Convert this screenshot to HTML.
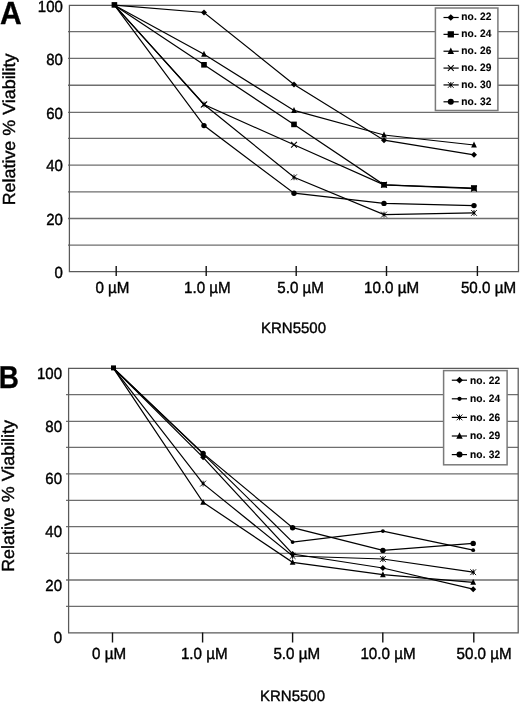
<!DOCTYPE html>
<html><head><meta charset="utf-8"><title>Figure</title>
<style>
html,body{margin:0;padding:0;background:#fff;}
body{width:520px;height:702px;overflow:hidden;}
svg{display:block;filter:grayscale(1);}
svg text{font-family:"Liberation Sans", sans-serif;fill:#000;text-rendering:geometricPrecision;}
</style></head>
<body>
<svg width="520" height="702" viewBox="0 0 520 702">
<rect width="520" height="702" fill="#fff"/>
<line x1="68.0" y1="31.70" x2="518.5" y2="31.70" stroke="#6e6e6e" stroke-width="1.3"/>
<line x1="68.0" y1="58.30" x2="518.5" y2="58.30" stroke="#6e6e6e" stroke-width="1.3"/>
<line x1="68.0" y1="85.25" x2="518.5" y2="85.25" stroke="#6e6e6e" stroke-width="1.3"/>
<line x1="68.0" y1="112.40" x2="518.5" y2="112.40" stroke="#6e6e6e" stroke-width="1.3"/>
<line x1="68.0" y1="138.30" x2="518.5" y2="138.30" stroke="#6e6e6e" stroke-width="1.3"/>
<line x1="68.0" y1="165.20" x2="518.5" y2="165.20" stroke="#6e6e6e" stroke-width="1.3"/>
<line x1="68.0" y1="191.80" x2="518.5" y2="191.80" stroke="#6e6e6e" stroke-width="1.3"/>
<line x1="68.0" y1="218.50" x2="518.5" y2="218.50" stroke="#6e6e6e" stroke-width="1.3"/>
<line x1="68.0" y1="245.10" x2="518.5" y2="245.10" stroke="#6e6e6e" stroke-width="1.3"/>
<path d="M69.4,5.3H518.5V271.5H69.4Z" fill="none" stroke="#5a5a5a" stroke-width="1.25"/>
<line x1="116.2" y1="266" x2="116.2" y2="276" stroke="#111" stroke-width="1.4"/>
<line x1="206.2" y1="266" x2="206.2" y2="276" stroke="#111" stroke-width="1.4"/>
<line x1="296.2" y1="266" x2="296.2" y2="276" stroke="#111" stroke-width="1.4"/>
<line x1="386.5" y1="266" x2="386.5" y2="276" stroke="#111" stroke-width="1.4"/>
<line x1="477.4" y1="266" x2="477.4" y2="276" stroke="#111" stroke-width="1.4"/>
<text transform="translate(62.9,11.5) scale(1.0,1.07)" font-size="15" text-anchor="end" stroke="#000" stroke-width="0.38">100</text>
<text transform="translate(62.9,64.5) scale(1.0,1.07)" font-size="15" text-anchor="end" stroke="#000" stroke-width="0.38">80</text>
<text transform="translate(62.9,118.6) scale(1.0,1.07)" font-size="15" text-anchor="end" stroke="#000" stroke-width="0.38">60</text>
<text transform="translate(62.9,171.4) scale(1.0,1.07)" font-size="15" text-anchor="end" stroke="#000" stroke-width="0.38">40</text>
<text transform="translate(62.9,224.7) scale(1.0,1.07)" font-size="15" text-anchor="end" stroke="#000" stroke-width="0.38">20</text>
<text transform="translate(62.9,277.7) scale(1.0,1.07)" font-size="15" text-anchor="end" stroke="#000" stroke-width="0.38">0</text>
<text transform="translate(95.4,292.6) scale(1.012,1.07)" font-size="15" stroke="#000" stroke-width="0.38">0 µM</text>
<text transform="translate(184.0,292.6) scale(1.012,1.07)" font-size="15" stroke="#000" stroke-width="0.38">1.0 µM</text>
<text transform="translate(277.3,292.6) scale(1.012,1.07)" font-size="15" stroke="#000" stroke-width="0.38">5.0 µM</text>
<text transform="translate(364.0,292.6) scale(1.012,1.07)" font-size="15" stroke="#000" stroke-width="0.38">10.0 µM</text>
<text transform="translate(460.9,292.6) scale(1.012,1.07)" font-size="15" stroke="#000" stroke-width="0.38">50.0 µM</text>
<text transform="translate(261.0,333.1) scale(1.0,1.0)" font-size="15" stroke="#000" stroke-width="0.38">KRN5500</text>
<text transform="translate(0.0,23.5) scale(1.0,1.065)" font-size="30" font-weight="bold" stroke="#000" stroke-width="0.3">A</text>
<text transform="translate(15.4,205.3) rotate(-90) scale(1.022,1.0)" font-size="17.5" stroke="#000" stroke-width="0.38">Relative % Viability</text>
<polyline points="114.4,5.2 204,12.5 294,84.4 384,140.2 474,154.8" fill="none" stroke="#000" stroke-width="1.2"/>
<polyline points="114.4,5.2 204,64.8 294,124.4 384,184.8 474,188.0" fill="none" stroke="#000" stroke-width="1.2"/>
<polyline points="114.4,5.2 204,54.2 294,110.4 384,135.0 474,145.0" fill="none" stroke="#000" stroke-width="1.2"/>
<polyline points="114.4,5.2 204,104.5 294,144.8 384,184.8 474,188.6" fill="none" stroke="#000" stroke-width="1.2"/>
<polyline points="114.4,5.2 204,104.5 294,177.3 384,214.6 474,212.9" fill="none" stroke="#000" stroke-width="1.2"/>
<polyline points="114.4,5.2 204,125.6 294,193.2 384,203.4 474,205.6" fill="none" stroke="#000" stroke-width="1.2"/>
<polygon points="204,9.5 207.0,12.5 204,15.5 201.0,12.5" fill="#000"/>
<polygon points="294,81.4 297.0,84.4 294,87.4 291.0,84.4" fill="#000"/>
<polygon points="384,137.2 387.0,140.2 384,143.2 381.0,140.2" fill="#000"/>
<polygon points="474,151.8 477.0,154.8 474,157.8 471.0,154.8" fill="#000"/>
<rect x="201.2" y="62.0" width="5.6" height="5.6" fill="#000"/>
<rect x="291.2" y="121.60000000000001" width="5.6" height="5.6" fill="#000"/>
<rect x="381.2" y="182.0" width="5.6" height="5.6" fill="#000"/>
<rect x="471.2" y="185.2" width="5.6" height="5.6" fill="#000"/>
<polygon points="204,50.81 206.85,56.75 201.15,56.75" fill="#000"/>
<polygon points="294,107.01 296.85,112.95 291.15,112.95" fill="#000"/>
<polygon points="384,131.61 386.85,137.55 381.15,137.55" fill="#000"/>
<polygon points="474,141.61 476.85,147.55 471.15,147.55" fill="#000"/>
<path d="M201.1,101.6L206.9,107.4M201.1,107.4L206.9,101.6" stroke="#000" stroke-width="1.1" fill="none"/>
<path d="M291.1,141.9L296.9,147.70000000000002M291.1,147.70000000000002L296.9,141.9" stroke="#000" stroke-width="1.1" fill="none"/>
<path d="M381.1,181.9L386.9,187.70000000000002M381.1,187.70000000000002L386.9,181.9" stroke="#000" stroke-width="1.1" fill="none"/>
<path d="M471.1,185.7L476.9,191.5M471.1,191.5L476.9,185.7" stroke="#000" stroke-width="1.1" fill="none"/>
<path d="M201.1,101.6L206.9,107.4M201.1,107.4L206.9,101.6M204,101.6L204,107.4" stroke="#000" stroke-width="0.9" fill="none"/><circle cx="204" cy="104.5" r="1.4" fill="#000"/>
<path d="M291.1,174.4L296.9,180.20000000000002M291.1,180.20000000000002L296.9,174.4M294,174.4L294,180.20000000000002" stroke="#000" stroke-width="0.9" fill="none"/><circle cx="294" cy="177.3" r="1.4" fill="#000"/>
<path d="M381.1,211.7L386.9,217.5M381.1,217.5L386.9,211.7M384,211.7L384,217.5" stroke="#000" stroke-width="0.9" fill="none"/><circle cx="384" cy="214.6" r="1.4" fill="#000"/>
<path d="M471.1,210.0L476.9,215.8M471.1,215.8L476.9,210.0M474,210.0L474,215.8" stroke="#000" stroke-width="0.9" fill="none"/><circle cx="474" cy="212.9" r="1.4" fill="#000"/>
<circle cx="204" cy="125.6" r="2.7" fill="#000"/>
<circle cx="294" cy="193.2" r="2.7" fill="#000"/>
<circle cx="384" cy="203.4" r="2.7" fill="#000"/>
<circle cx="474" cy="205.6" r="2.7" fill="#000"/>
<rect x="111.60000000000001" y="2.1000000000000005" width="5.6" height="5.6" fill="#000"/>
<rect x="435.4" y="8.0" width="62.5" height="102.5" fill="#fff" stroke="#7a7a7a" stroke-width="1.5"/>
<line x1="443.5" y1="17.50" x2="458.7" y2="17.50" stroke="#000" stroke-width="1.2"/>
<polygon points="450.8,14.14 454.16,17.5 450.8,20.86 447.44,17.5" fill="#000"/>
<text transform="translate(461.2,20.2) scale(1.0,1.04)" font-size="10.2" font-weight="bold" stroke="#000" stroke-width="0.12" letter-spacing="0.15">no. 22</text>
<line x1="443.5" y1="34.36" x2="458.7" y2="34.36" stroke="#000" stroke-width="1.2"/>
<rect x="447.664" y="31.224" width="6.272" height="6.272" fill="#000"/>
<text transform="translate(461.2,37.06) scale(1.0,1.04)" font-size="10.2" font-weight="bold" stroke="#000" stroke-width="0.12" letter-spacing="0.15">no. 24</text>
<line x1="443.5" y1="51.22" x2="458.7" y2="51.22" stroke="#000" stroke-width="1.2"/>
<polygon points="450.8,47.42 453.99,54.08 447.61,54.08" fill="#000"/>
<text transform="translate(461.2,53.92) scale(1.0,1.04)" font-size="10.2" font-weight="bold" stroke="#000" stroke-width="0.12" letter-spacing="0.15">no. 26</text>
<line x1="443.5" y1="68.08" x2="458.7" y2="68.08" stroke="#000" stroke-width="1.2"/>
<path d="M447.90000000000003,65.17999999999999L453.7,70.98M447.90000000000003,70.98L453.7,65.17999999999999" stroke="#000" stroke-width="1.1" fill="none"/>
<text transform="translate(461.2,70.78) scale(1.0,1.04)" font-size="10.2" font-weight="bold" stroke="#000" stroke-width="0.12" letter-spacing="0.15">no. 29</text>
<line x1="443.5" y1="84.94" x2="458.7" y2="84.94" stroke="#000" stroke-width="1.2"/>
<path d="M447.90000000000003,82.03999999999999L453.7,87.84M447.90000000000003,87.84L453.7,82.03999999999999M450.8,82.03999999999999L450.8,87.84" stroke="#000" stroke-width="0.9" fill="none"/><circle cx="450.8" cy="84.94" r="1.4" fill="#000"/>
<text transform="translate(461.2,87.64) scale(1.0,1.04)" font-size="10.2" font-weight="bold" stroke="#000" stroke-width="0.12" letter-spacing="0.15">no. 30</text>
<line x1="443.5" y1="101.80" x2="458.7" y2="101.80" stroke="#000" stroke-width="1.2"/>
<circle cx="450.8" cy="101.8" r="3.0240000000000005" fill="#000"/>
<text transform="translate(461.2,104.5) scale(1.0,1.04)" font-size="10.2" font-weight="bold" stroke="#000" stroke-width="0.12" letter-spacing="0.15">no. 32</text>
<line x1="66.0" y1="394.60" x2="518.2" y2="394.60" stroke="#6e6e6e" stroke-width="1.3"/>
<line x1="66.0" y1="421.30" x2="518.2" y2="421.30" stroke="#6e6e6e" stroke-width="1.3"/>
<line x1="66.0" y1="447.40" x2="518.2" y2="447.40" stroke="#6e6e6e" stroke-width="1.3"/>
<line x1="66.0" y1="473.90" x2="518.2" y2="473.90" stroke="#6e6e6e" stroke-width="1.3"/>
<line x1="66.0" y1="500.30" x2="518.2" y2="500.30" stroke="#6e6e6e" stroke-width="1.3"/>
<line x1="66.0" y1="526.70" x2="518.2" y2="526.70" stroke="#6e6e6e" stroke-width="1.3"/>
<line x1="66.0" y1="553.30" x2="518.2" y2="553.30" stroke="#6e6e6e" stroke-width="1.3"/>
<line x1="66.0" y1="580.00" x2="518.2" y2="580.00" stroke="#6e6e6e" stroke-width="1.3"/>
<line x1="66.0" y1="606.40" x2="518.2" y2="606.40" stroke="#6e6e6e" stroke-width="1.3"/>
<path d="M68.6,368.3H518.2V632.8H68.6Z" fill="none" stroke="#5a5a5a" stroke-width="1.25"/>
<line x1="112.5" y1="632.5" x2="112.5" y2="642.5" stroke="#111" stroke-width="1.4"/>
<line x1="202.6" y1="632.5" x2="202.6" y2="642.5" stroke="#111" stroke-width="1.4"/>
<line x1="292.6" y1="632.5" x2="292.6" y2="642.5" stroke="#111" stroke-width="1.4"/>
<line x1="382.8" y1="632.5" x2="382.8" y2="642.5" stroke="#111" stroke-width="1.4"/>
<line x1="473.8" y1="632.5" x2="473.8" y2="642.5" stroke="#111" stroke-width="1.4"/>
<text transform="translate(62.0,378.8) scale(1.0,1.07)" font-size="15" text-anchor="end" stroke="#000" stroke-width="0.38">100</text>
<text transform="translate(62.0,431.8) scale(1.0,1.07)" font-size="15" text-anchor="end" stroke="#000" stroke-width="0.38">80</text>
<text transform="translate(62.0,484.4) scale(1.0,1.07)" font-size="15" text-anchor="end" stroke="#000" stroke-width="0.38">60</text>
<text transform="translate(62.0,537.2) scale(1.0,1.07)" font-size="15" text-anchor="end" stroke="#000" stroke-width="0.38">40</text>
<text transform="translate(62.0,590.5) scale(1.0,1.07)" font-size="15" text-anchor="end" stroke="#000" stroke-width="0.38">20</text>
<text transform="translate(62.0,643.3) scale(1.0,1.07)" font-size="15" text-anchor="end" stroke="#000" stroke-width="0.38">0</text>
<text transform="translate(92.0,659.1) scale(1.012,1.07)" font-size="15" stroke="#000" stroke-width="0.38">0 µM</text>
<text transform="translate(180.9,659.1) scale(1.012,1.07)" font-size="15" stroke="#000" stroke-width="0.38">1.0 µM</text>
<text transform="translate(273.4,659.1) scale(1.012,1.07)" font-size="15" stroke="#000" stroke-width="0.38">5.0 µM</text>
<text transform="translate(360.4,659.1) scale(1.012,1.07)" font-size="15" stroke="#000" stroke-width="0.38">10.0 µM</text>
<text transform="translate(456.5,659.1) scale(1.012,1.07)" font-size="15" stroke="#000" stroke-width="0.38">50.0 µM</text>
<text transform="translate(260.0,700.9) scale(1.0,1.0)" font-size="15" stroke="#000" stroke-width="0.38">KRN5500</text>
<text transform="translate(-1.2,387.5) scale(0.93,1.06)" font-size="30" font-weight="bold" stroke="#000" stroke-width="0.3">B</text>
<text transform="translate(13.8,571.8) rotate(-90) scale(1.022,1.0)" font-size="17.5" stroke="#000" stroke-width="0.38">Relative % Viability</text>
<polyline points="113.5,368.3 203.1,457.3 292.6,554.0 382.9,568.0 473.2,589.2" fill="none" stroke="#000" stroke-width="1.2"/>
<polyline points="113.5,368.3 203.1,453.9 292.6,542.1 382.9,531.1 473.2,550.2" fill="none" stroke="#000" stroke-width="1.2"/>
<polyline points="113.5,368.3 203.1,483.6 292.6,556.0 382.9,559.0 473.2,572.2" fill="none" stroke="#000" stroke-width="1.2"/>
<polyline points="113.5,368.3 203.1,502.3 292.6,562.3 382.9,574.6 473.2,582.3" fill="none" stroke="#000" stroke-width="1.2"/>
<polyline points="113.5,368.3 203.1,453.4 292.6,527.7 382.9,550.4 473.2,543.4" fill="none" stroke="#000" stroke-width="1.2"/>
<polygon points="203.1,454.3 206.1,457.3 203.1,460.3 200.1,457.3" fill="#000"/>
<polygon points="292.6,551.0 295.6,554.0 292.6,557.0 289.6,554.0" fill="#000"/>
<polygon points="382.9,565.0 385.9,568.0 382.9,571.0 379.9,568.0" fill="#000"/>
<polygon points="473.2,586.2 476.2,589.2 473.2,592.2 470.2,589.2" fill="#000"/>
<circle cx="203.1" cy="453.9" r="1.9" fill="#000"/>
<circle cx="292.6" cy="542.1" r="1.9" fill="#000"/>
<circle cx="382.9" cy="531.1" r="1.9" fill="#000"/>
<circle cx="473.2" cy="550.2" r="1.9" fill="#000"/>
<path d="M200.2,480.70000000000005L206.0,486.5M200.2,486.5L206.0,480.70000000000005M203.1,480.70000000000005L203.1,486.5" stroke="#000" stroke-width="0.9" fill="none"/><circle cx="203.1" cy="483.6" r="1.4" fill="#000"/>
<path d="M289.70000000000005,553.1L295.5,558.9M289.70000000000005,558.9L295.5,553.1M292.6,553.1L292.6,558.9" stroke="#000" stroke-width="0.9" fill="none"/><circle cx="292.6" cy="556.0" r="1.4" fill="#000"/>
<path d="M380.0,556.1L385.79999999999995,561.9M380.0,561.9L385.79999999999995,556.1M382.9,556.1L382.9,561.9" stroke="#000" stroke-width="0.9" fill="none"/><circle cx="382.9" cy="559.0" r="1.4" fill="#000"/>
<path d="M470.3,569.3000000000001L476.09999999999997,575.1M470.3,575.1L476.09999999999997,569.3000000000001M473.2,569.3000000000001L473.2,575.1" stroke="#000" stroke-width="0.9" fill="none"/><circle cx="473.2" cy="572.2" r="1.4" fill="#000"/>
<polygon points="203.1,498.91 205.95,504.85 200.25,504.85" fill="#000"/>
<polygon points="292.6,558.91 295.45,564.85 289.75,564.85" fill="#000"/>
<polygon points="382.9,571.21 385.75,577.15 380.05,577.15" fill="#000"/>
<polygon points="473.2,578.91 476.05,584.85 470.35,584.85" fill="#000"/>
<circle cx="203.1" cy="453.4" r="2.7" fill="#000"/>
<circle cx="292.6" cy="527.7" r="2.7" fill="#000"/>
<circle cx="382.9" cy="550.4" r="2.7" fill="#000"/>
<circle cx="473.2" cy="543.4" r="2.7" fill="#000"/>
<rect x="111.0" y="365.4" width="5.0" height="5.0" fill="#000"/>
<rect x="443.6" y="370.6" width="63.5" height="94.2" fill="#fff" stroke="#7a7a7a" stroke-width="1.5"/>
<line x1="451.8" y1="380.20" x2="467.0" y2="380.20" stroke="#000" stroke-width="1.2"/>
<polygon points="459.5,376.84 462.86,380.2 459.5,383.56 456.14,380.2" fill="#000"/>
<text transform="translate(470.0,383.5) scale(1.0,1.04)" font-size="10.2" font-weight="bold" stroke="#000" stroke-width="0.12" letter-spacing="0.15">no. 22</text>
<line x1="451.8" y1="398.80" x2="467.0" y2="398.80" stroke="#000" stroke-width="1.2"/>
<circle cx="459.5" cy="398.8" r="2.128" fill="#000"/>
<text transform="translate(470.0,402.1) scale(1.0,1.04)" font-size="10.2" font-weight="bold" stroke="#000" stroke-width="0.12" letter-spacing="0.15">no. 24</text>
<line x1="451.8" y1="417.40" x2="467.0" y2="417.40" stroke="#000" stroke-width="1.2"/>
<path d="M456.6,414.5L462.4,420.29999999999995M456.6,420.29999999999995L462.4,414.5M459.5,414.5L459.5,420.29999999999995" stroke="#000" stroke-width="0.9" fill="none"/><circle cx="459.5" cy="417.4" r="1.4" fill="#000"/>
<text transform="translate(470.0,420.7) scale(1.0,1.04)" font-size="10.2" font-weight="bold" stroke="#000" stroke-width="0.12" letter-spacing="0.15">no. 26</text>
<line x1="451.8" y1="436.00" x2="467.0" y2="436.00" stroke="#000" stroke-width="1.2"/>
<polygon points="459.5,432.20 462.69,438.86 456.31,438.86" fill="#000"/>
<text transform="translate(470.0,439.3) scale(1.0,1.04)" font-size="10.2" font-weight="bold" stroke="#000" stroke-width="0.12" letter-spacing="0.15">no. 29</text>
<line x1="451.8" y1="454.60" x2="467.0" y2="454.60" stroke="#000" stroke-width="1.2"/>
<circle cx="459.5" cy="454.6" r="3.0240000000000005" fill="#000"/>
<text transform="translate(470.0,457.9) scale(1.0,1.04)" font-size="10.2" font-weight="bold" stroke="#000" stroke-width="0.12" letter-spacing="0.15">no. 32</text>
</svg>
</body></html>
